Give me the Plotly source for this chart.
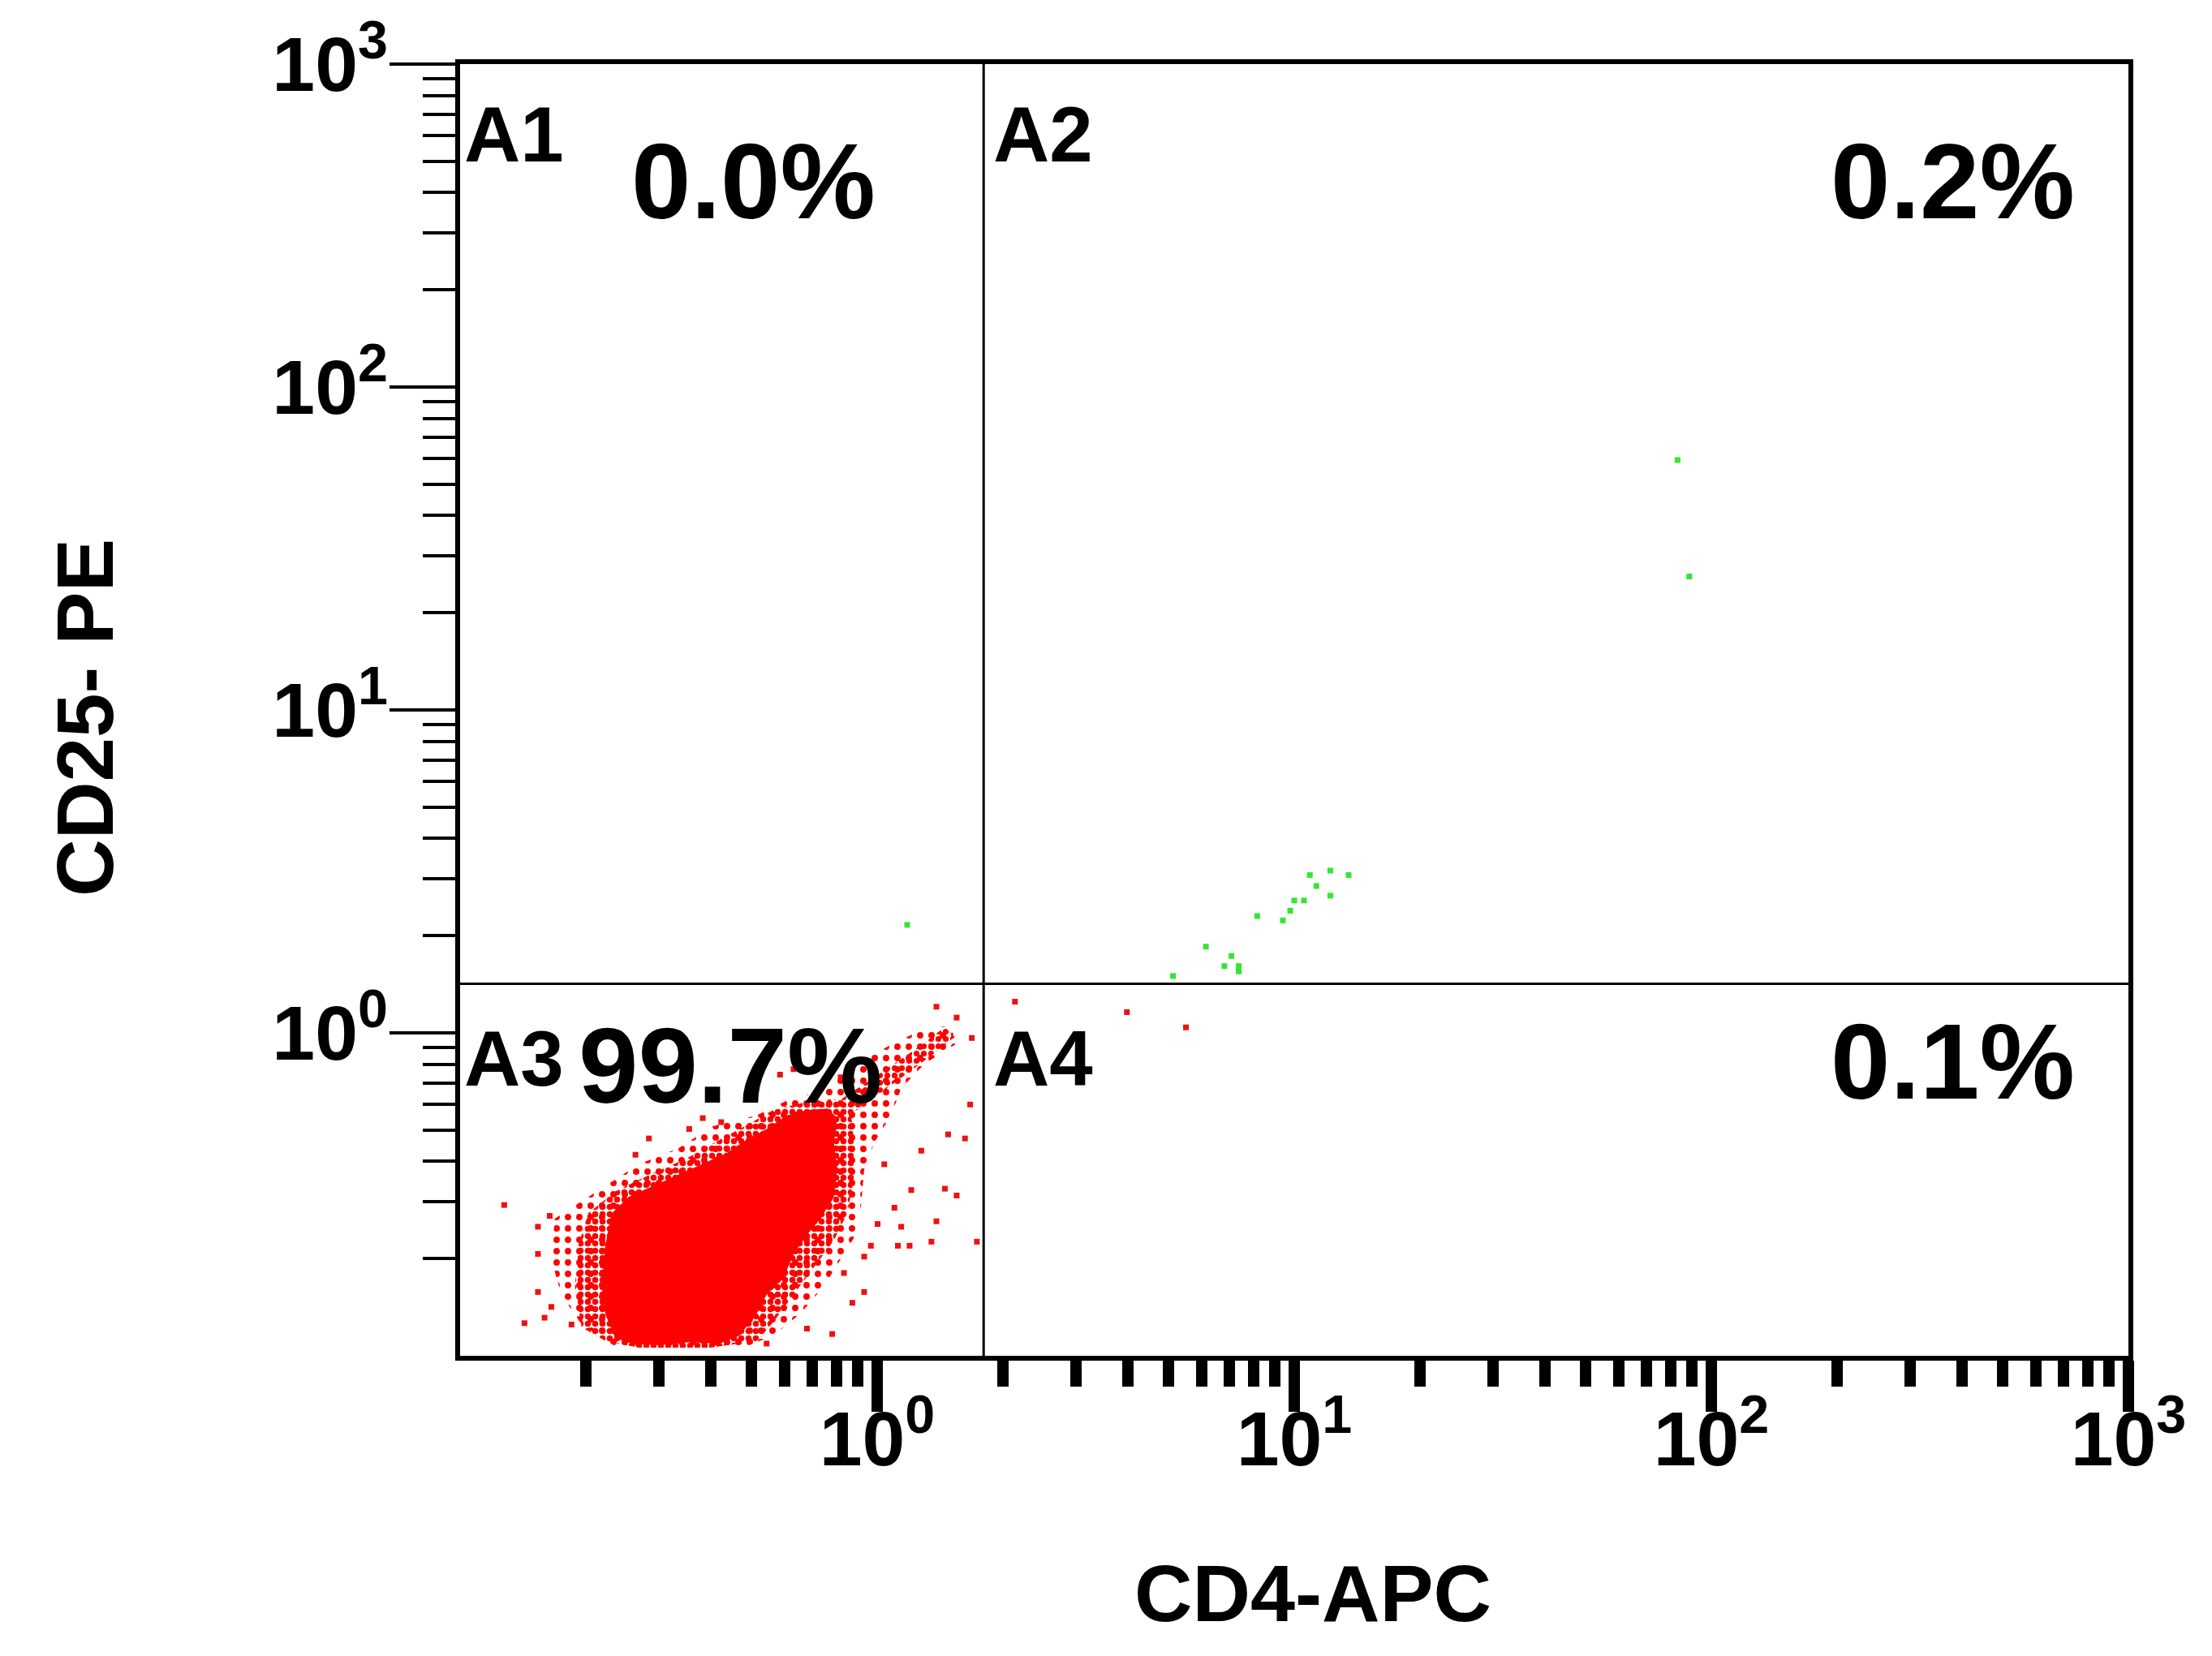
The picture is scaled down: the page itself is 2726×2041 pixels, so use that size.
import plotly.graph_objects as go

# ---------------- data (CD4-APC on x, CD25-PE on y, log scales) ----------------
GATE_X = 1.80          # vertical quadrant gate (CD4-APC)
GATE_Y = 1.42          # horizontal quadrant gate (CD25-PE)

X_RANGE_LOG = [-1, 3]
Y_RANGE_LOG = [-1, 3]

MAJOR_TICKS = [1, 10, 100, 1000]
MAJOR_LABELS = ["10<sup>0</sup>", "10<sup>1</sup>", "10<sup>2</sup>", "10<sup>3</sup>"]
MINOR_TICKS = [m * d for d in [0.1, 1, 10, 100] for m in range(2, 10)]

QUAD_NAMES = ["A1", "A2", "A3", "A4"]
QUAD_PCT = ["0.0%", "0.2%", "99.7%", "0.1%"]

# dense core of the A3 population (outline)
CORE_X = [0.2355, 0.2228, 0.2186, 0.2228, 0.2312, 0.2537, 0.2998, 0.3543, 0.4346, 0.4859,
          0.5431, 0.6071, 0.6787, 0.7587, 0.8023, 0.7876, 0.8023, 0.7876, 0.7310, 0.6787,
          0.6302, 0.5961, 0.5431, 0.5137, 0.4683, 0.4188, 0.3543, 0.2998, 0.2584]
CORE_Y = [0.1134, 0.1350, 0.1639, 0.2192, 0.2765, 0.3106, 0.3421, 0.3770, 0.4233, 0.4665,
          0.5040, 0.5553, 0.5772, 0.5828, 0.5446, 0.4575, 0.3770, 0.3106, 0.2660, 0.2368,
          0.2068, 0.1737, 0.1547, 0.1350, 0.1156, 0.1091, 0.1102, 0.1080, 0.1091]

# dense speckled shell around the core (outline)
INNER_X = [0.1956, 0.1885, 0.1920, 0.2030, 0.2355, 0.2836, 0.3478, 0.4188, 0.4950, 0.5638,
           0.6787, 0.7876, 0.8640, 0.8801, 0.8801, 0.8481, 0.7875, 0.7046, 0.6302, 0.5638,
           0.5160, 0.3979, 0.2683, 0.2228]
INNER_Y = [0.1226, 0.1639, 0.2192, 0.2765, 0.3229, 0.3627, 0.4073, 0.4665, 0.5240, 0.5772,
           0.6117, 0.6237, 0.5772, 0.4575, 0.3557, 0.2765, 0.2278, 0.1877, 0.1547, 0.1274,
           0.1113, 0.1060, 0.1060, 0.1113]

# sparse outer fringe of the A3 population (outline)
FRINGE_X = [0.1686, 0.1850, 0.2228, 0.2683, 0.3351, 0.4036, 0.5137, 0.6186, 0.7447, 0.8968,
            1.0797, 1.300, 1.508, 1.537, 1.300, 1.142, 1.0797, 0.9840, 0.9307, 0.9136,
            0.8968, 0.8174, 0.7447, 0.6540, 0.5638, 0.4859, 0.2998, 0.2355, 0.1956, 0.1749,
            0.1655]
FRINGE_Y = [0.2660, 0.2874, 0.3356, 0.3918, 0.4401, 0.5139, 0.5553, 0.6237, 0.6613, 0.8023,
            0.9189, 1.032, 1.052, 0.9189, 0.8023, 0.6742, 0.5553, 0.4575, 0.3770, 0.2874,
            0.2414, 0.1989, 0.1639, 0.1350, 0.1156, 0.1070, 0.1050, 0.1070, 0.1250, 0.1547,
            0.1989]

# denser diagonal streak toward the gate corner
STREAK_X = [0.8023, 0.9840, 1.2526, 1.4534, 1.537, 1.3744, 1.0999, 0.8968, 0.8174]
STREAK_Y = [0.6117, 0.7284, 0.9012, 1.042, 0.9738, 0.8670, 0.7006, 0.5772, 0.5553]

# isolated red events in A3
STRAY_X = [0.1276, 0.1537, 0.1640, 0.1537, 0.1537, 0.1655, 0.1427, 0.1594, 0.1850, 0.5431,
           0.6787, 0.7803, 0.9307, 0.8720, 0.9307, 0.8325, 1.349, 1.387, 1.121, 1.196,
           1.734, 1.551, 1.4534, 1.207, 1.624, 1.480, 1.671, 1.551, 1.387, 1.686,
           0.2836, 0.2633, 0.3543, 0.3818, 0.4227, 0.5850, 0.6302, 0.8174, 0.7310, 1.040,
           1.276, 1.0999, 1.0024, 1.142, 0.9659]
STRAY_Y = [0.2931, 0.2510, 0.2712, 0.2068, 0.1576, 0.1417, 0.1262, 0.1312, 0.1250, 0.1091,
           0.1214, 0.1168, 0.1576, 0.1459, 0.2028, 0.1805, 0.2256, 0.2609, 0.2192, 0.2192,
           0.2256, 0.3136, 0.3292, 0.3260, 0.4710, 0.4849, 0.5999, 1.115, 1.205, 0.9644,
           0.4710, 0.4193, 0.5040, 0.5446, 0.5291, 0.7426, 0.7718, 0.7284, 0.8502, 0.3918,
           0.4317, 0.2874, 0.2559, 0.2510, 0.2192]

# red events in A4
A4_X = [2.14, 3.97, 5.50]
A4_Y = [1.249, 1.159, 1.04]

# green (CD25+) events
GREEN_X = [83.0, 88.5, 13.5, 12.2, 10.9, 11.3, 12.2, 10.0, 10.55, 9.78, 9.39, 8.15, 6.14,
           7.07, 6.80, 7.36, 7.36, 5.12, 1.18]
GREEN_Y = [59.4, 25.9, 3.08, 3.18, 3.08, 2.85, 2.66, 2.57, 2.57, 2.39, 2.23, 2.30, 1.85,
           1.73, 1.61, 1.61, 1.55, 1.50, 2.16]

# ---------------- figure ----------------
RED = "#ff0000"
GREEN = "#33e633"
FONT = "Liberation Sans, Arial"

fig = go.Figure()


def speckle(xs, ys, size, solidity):
    return go.Scatter(
        x=xs, y=ys, mode="lines", fill="toself",
        line=dict(width=0, color=RED), fillcolor="rgba(0,0,0,0)",
        fillpattern=dict(shape=".", fgcolor=RED, bgcolor="rgba(0,0,0,0)",
                         size=size, solidity=solidity, fillmode="replace"),
        hoverinfo="skip")


fig.add_trace(speckle(FRINGE_X, FRINGE_Y, 14, 0.25))
fig.add_trace(speckle(STREAK_X, STREAK_Y, 9, 0.5))
fig.add_trace(speckle(INNER_X, INNER_Y, 9, 0.55))
fig.add_trace(go.Scatter(
    x=CORE_X, y=CORE_Y, mode="lines", fill="toself",
    line=dict(width=0, color=RED), fillcolor=RED, hoverinfo="skip"))
fig.add_trace(go.Scatter(
    x=STRAY_X + A4_X, y=STRAY_Y + A4_Y, mode="markers",
    marker=dict(symbol="square", size=7, color="#ee1111", line=dict(width=0))))
fig.add_trace(go.Scatter(
    x=GREEN_X, y=GREEN_Y, mode="markers",
    marker=dict(symbol="square", size=7, color=GREEN, line=dict(width=0))))

# quadrant gate lines
fig.add_trace(go.Scatter(x=[GATE_X, GATE_X], y=[10 ** Y_RANGE_LOG[0], 10 ** Y_RANGE_LOG[1]],
                         mode="lines", line=dict(color="black", width=3), hoverinfo="skip"))
fig.add_trace(go.Scatter(x=[10 ** X_RANGE_LOG[0], 10 ** X_RANGE_LOG[1]], y=[GATE_Y, GATE_Y],
                         mode="lines", line=dict(color="black", width=3), hoverinfo="skip"))

axis_common = dict(
    type="log", showgrid=False, zeroline=False, showline=True, linecolor="black",
    linewidth=6, mirror=True, ticks="outside", tickcolor="black",
    tickvals=MAJOR_TICKS, ticktext=MAJOR_LABELS,
    tickfont=dict(family=FONT, size=95, color="black", weight="bold"),
)

fig.update_xaxes(**axis_common, range=X_RANGE_LOG, ticklen=63, tickwidth=14,
                 ticklabelstandoff=-48,
                 minor=dict(tickvals=MINOR_TICKS, ticks="outside", ticklen=32,
                            tickwidth=14, tickcolor="black", showgrid=False))
fig.update_yaxes(**axis_common, range=Y_RANGE_LOG, ticklen=81, tickwidth=4,
                 ticklabelstandoff=-17,
                 minor=dict(tickvals=MINOR_TICKS, ticks="outside", ticklen=40,
                            tickwidth=4, tickcolor="black", showgrid=False))

ann = []
name_pos = [(0.0015, 0.9454), (0.3186, 0.9454), (0.0015, 0.2302), (0.3186, 0.2302)]
for name, (px, py) in zip(QUAD_NAMES, name_pos):
    ann.append(dict(text=name, x=px, y=py, xref="paper", yref="paper", xanchor="left",
                    yanchor="middle", showarrow=False,
                    font=dict(family=FONT, size=96, color="black", weight="bold")))
pct_pos = [(0.1756, 0.909, "center"), (0.9688, 0.909, "right"),
           (0.162, 0.2246, "center"), (0.9688, 0.228, "right")]
for pct, (px, py, xa) in zip(QUAD_PCT, pct_pos):
    ann.append(dict(text=pct, x=px, y=py, xref="paper", yref="paper", xanchor=xa,
                    yanchor="middle", showarrow=False,
                    font=dict(family=FONT, size=132, color="black", weight="bold")))
ann.append(dict(text="CD4-APC", x=0.5112, y=-0.184, xref="paper", yref="paper",
                xanchor="center", yanchor="middle", showarrow=False,
                font=dict(family=FONT, size=99, color="black", weight="bold")))
ann.append(dict(text="CD25- PE", x=-0.2247, y=0.4937, xref="paper", yref="paper",
                xanchor="center", yanchor="middle", showarrow=False, textangle=-90,
                font=dict(family=FONT, size=98, color="black", weight="bold")))

fig.update_layout(
    width=2726, height=2041, autosize=False,
    margin=dict(l=567, r=103, t=77, b=370, pad=0),
    paper_bgcolor="white", plot_bgcolor="white",
    showlegend=False, annotations=ann,
)

fig.write_html("out.html", config={"displayModeBar": False},
               post_script="document.body.style.margin='0';document.body.style.overflow='hidden';")
